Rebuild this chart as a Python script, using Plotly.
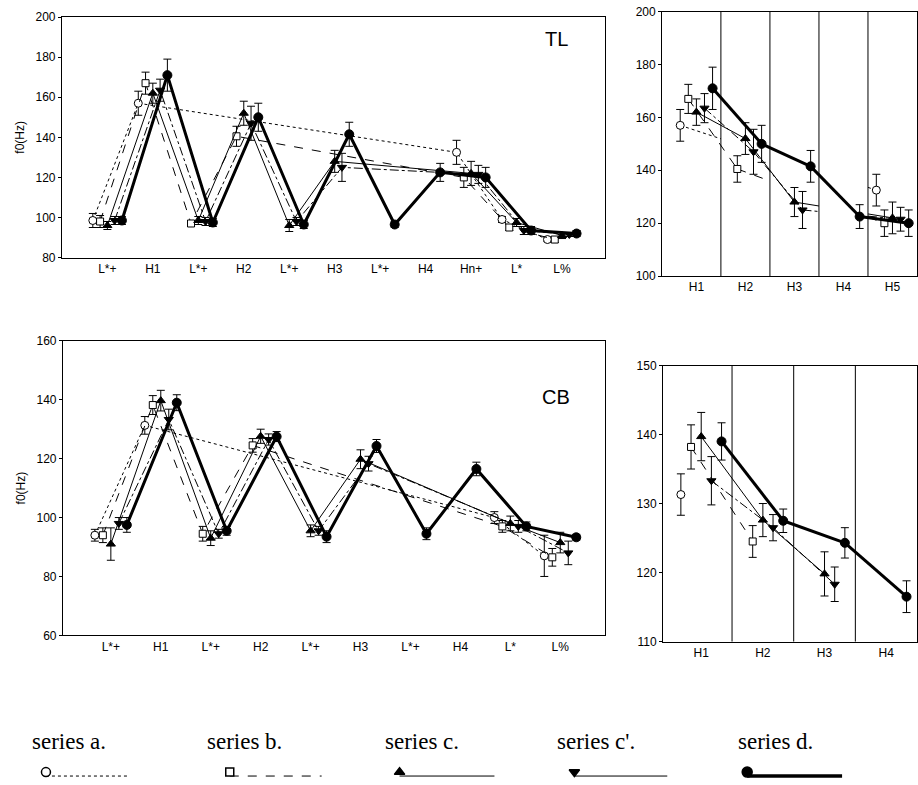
import plotly.graph_objects as go

# ---------------- data ----------------
series = ["a", "b", "c", "c'", "d"]

# TL (top) panel categories
tl_labels = ["L*+", "H1", "L*+", "H2", "L*+", "H3", "L*+", "H4", "Hn+", "L*", "L%"]
tl_idx = {
    "a": [0, 1, 8, 9, 10],
    "b": [0, 1, 2, 3, 8, 9, 10],
    "c": [0, 1, 2, 3, 4, 5, 8, 9, 10],
    "c'": [0, 1, 2, 3, 4, 5, 8, 9, 10],
    "d": [0, 1, 2, 3, 4, 5, 6, 7, 8, 9, 10],
}
tl_val = {
    "a": [98.5, 157, 132.5, 99, 89],
    "b": [98, 167, 97, 140.5, 120, 95, 89],
    "c": [96, 162, 98.5, 152, 96, 128, 122, 97.5, 91],
    "c'": [98.5, 163.5, 98, 147, 98, 125, 121.5, 93.5, 91.5],
    "d": [98.5, 171, 97.5, 150, 96.5, 141.5, 96.5, 122.5, 120, 93.5, 92],
}
tl_err = {
    "a": [3.5, 6, 6, 1.5, 1],
    "b": [3, 5.5, 1.5, 5, 5, 1.5, 1.5],
    "c": [2, 5, 2, 6, 3, 5.5, 6, 2, 1.5],
    "c'": [2, 5.5, 2, 8.5, 2, 7, 4.5, 2, 1],
    "d": [2, 8, 2, 7, 2, 6, 1.5, 4.5, 5, 2, 1.5],
}
tr_labels = ["H1", "H2", "H3", "H4", "H5"]

# CB (bottom) panel categories
cb_labels = ["L*+", "H1", "L*+", "H2", "L*+", "H3", "L*+", "H4", "L*", "L%"]
cb_idx = {
    "a": [0, 1, 8, 9],
    "b": [0, 1, 2, 3, 8, 9],
    "c": [0, 1, 2, 3, 4, 5, 8, 9],
    "c'": [0, 1, 2, 3, 4, 5, 8, 9],
    "d": [0, 1, 2, 3, 4, 5, 6, 7, 8, 9],
}
cb_val = {
    "a": [94, 131.3, 100, 87],
    "b": [94, 138.2, 94.5, 124.5, 97, 86.5],
    "c": [91, 139.7, 93, 127.6, 95.5, 119.8, 98, 91.5],
    "c'": [98, 133.3, 94.5, 126.5, 95.5, 118.3, 97, 88],
    "d": [97.5, 139, 95.5, 127.5, 93.5, 124.3, 94.5, 116.5, 97, 93.3],
}
cb_err = {
    "a": [2, 3, 2, 7],
    "b": [2.5, 3.2, 2.5, 2.3, 2, 3],
    "c": [5.5, 3.5, 2.5, 2.4, 2, 3.2, 2.5, 3.5],
    "c'": [2, 3.5, 1.5, 1.9, 1.5, 2.5, 2, 4],
    "d": [2.5, 2.7, 1.5, 1.7, 2, 2.2, 2, 2.3, 1.5, 1],
}
br_labels = ["H1", "H2", "H3", "H4"]

legend_text = ["series a.", "series b.", "series c.", "series c'.", "series d."]

# ---------------- styles ----------------
sty = {
    "a": dict(symbol="circle", fill="white", dash="dot", width=1, size=8),
    "b": dict(symbol="square", fill="white", dash="dash", width=1, size=7),
    "c": dict(symbol="triangle-up", fill="black", dash="solid", width=1, size=8),
    "c'": dict(symbol="triangle-down", fill="black", dash="dashdot", width=1, size=8),
    "d": dict(symbol="circle", fill="black", dash="solid", width=3, size=9),
}
off_left = {s: (i - 2) * 0.16 for i, s in enumerate(series)}
off_right = {s: (i - 2) * 0.165 for i, s in enumerate(series)}

fig = go.Figure()


def add_main(xa, ya, idx, val, err, off):
    for s in series:
        st = sty[s]
        xs = [i + off[s] for i in idx[s]]
        fig.add_trace(go.Scatter(
            x=xs, y=val[s], xaxis=xa, yaxis=ya, mode="lines+markers",
            line=dict(color="black", width=st["width"], dash=st["dash"]),
            marker=dict(symbol=st["symbol"], size=st["size"], color=st["fill"],
                        line=dict(color="black", width=1)),
            error_y=dict(type="data", array=err[s], color="black", thickness=1, width=4),
            showlegend=False, hoverinfo="skip"))


def add_right(xa, ya, labels, idx, val, err, off):
    for s in series:
        st = sty[s]
        cols, vs, es = [], [], []
        for i, v, e in zip(idx[s], val[s], err[s]):
            if labels[i].startswith("H"):
                cols.append(len([l for l in labels[:i] if l.startswith("H")]))
                vs.append(v)
                es.append(e)
        xs = [c + off[s] for c in cols]
        # line pieces, broken across skipped columns
        lx, ly = [], []
        for k in range(len(cols) - 1):
            x0, y0, x1, y1 = xs[k], vs[k], xs[k + 1], vs[k + 1]
            if cols[k + 1] - cols[k] == 1:
                lx += [x0, x1, None]
                ly += [y0, y1, None]
            else:
                xb0 = cols[k] + 0.5
                xb1 = cols[k + 1] - 0.5
                yb0 = y0 + (y1 - y0) * (xb0 - x0) / (x1 - x0)
                yb1 = y0 + (y1 - y0) * (xb1 - x0) / (x1 - x0)
                lx += [x0, xb0, None, xb1, x1, None]
                ly += [y0, yb0, None, yb1, y1, None]
        if lx:
            fig.add_trace(go.Scatter(
                x=lx, y=ly, xaxis=xa, yaxis=ya, mode="lines",
                line=dict(color="black", width=st["width"], dash=st["dash"]),
                showlegend=False, hoverinfo="skip", connectgaps=False))
        fig.add_trace(go.Scatter(
            x=xs, y=vs, xaxis=xa, yaxis=ya, mode="markers",
            marker=dict(symbol=st["symbol"], size=st["size"], color=st["fill"],
                        line=dict(color="black", width=1)),
            error_y=dict(type="data", array=es, color="black", thickness=1, width=4),
            showlegend=False, hoverinfo="skip"))


add_main("x", "y", tl_idx, tl_val, tl_err, off_left)
add_right("x2", "y2", tl_labels, tl_idx, tl_val, tl_err, off_right)
add_main("x3", "y3", cb_idx, cb_val, cb_err, off_left)
add_right("x4", "y4", cb_labels, cb_idx, cb_val, cb_err, off_right)

# ---------------- legend (decoration, pixel-unit overlay axis) ----------------
leg_txt_x = [30, 205, 383, 556, 737]
leg_x = [46, 230, 400, 575, 748]
leg_len = [84, 92, 95, 93, 95]
for s, tx, lx, ll, txt in zip(series, leg_txt_x, leg_x, leg_len, legend_text):
    st = sty[s]
    fig.add_trace(go.Scatter(
        x=[lx, lx + ll], y=[783, 783], xaxis="x5", yaxis="y5", mode="lines",
        line=dict(color="black", width=3.5 if s == "d" else 1,
                  dash="solid" if s == "c'" else st["dash"]),
        showlegend=False, hoverinfo="skip"))
    fig.add_trace(go.Scatter(
        x=[lx], y=[779], xaxis="x5", yaxis="y5", mode="markers",
        marker=dict(symbol=st["symbol"], size=st["size"] + 1, color=st["fill"],
                    line=dict(color="black", width=1.5)),
        showlegend=False, hoverinfo="skip"))
    fig.add_annotation(x=tx, y=748, xref="x5", yref="y5", text=txt,
                       showarrow=False, xanchor="left", yanchor="middle",
                       font=dict(family="Liberation Serif, Times New Roman, serif",
                                 size=23, color="black"))

# ---------------- layout ----------------
font_ax = dict(family="Liberation Sans, Arial, sans-serif", size=12, color="black")
common_x = dict(showline=True, linecolor="black", linewidth=1, mirror=True,
                showgrid=False, zeroline=False, ticks="", tickfont=font_ax)
common_y = dict(showline=True, linecolor="black", linewidth=1, mirror=True,
                showgrid=False, zeroline=False, ticks="outside", ticklen=3,
                tickcolor="black", tickfont=font_ax)

fig.update_layout(
    width=918, height=785, margin=dict(l=0, r=0, t=0, b=0),
    paper_bgcolor="white", plot_bgcolor="rgba(0,0,0,0)",
    xaxis=dict(common_x, domain=[0.0675, 0.660], range=[-1.0, 10.95], anchor="y",
               tickvals=list(range(len(tl_labels))), ticktext=tl_labels),
    yaxis=dict(common_y, domain=[0.675, 0.987], range=[80, 200], dtick=20, anchor="x",
               title=dict(text="f0(Hz)", font=font_ax, standoff=8)),
    xaxis2=dict(common_x, domain=[0.722, 1.0], range=[-0.7, 4.5], anchor="y2",
                tickvals=list(range(len(tr_labels))), ticktext=tr_labels),
    yaxis2=dict(common_y, domain=[0.651, 0.994], range=[100, 200], dtick=20,
                anchor="x2"),
    xaxis3=dict(common_x, domain=[0.0686, 0.660], range=[-0.96, 9.9],
                tickvals=list(range(len(cb_labels))), ticktext=cb_labels, anchor="y3"),
    yaxis3=dict(common_y, domain=[0.185, 0.567], range=[60, 160], dtick=20,
                anchor="x3", title=dict(text="f0(Hz)", font=font_ax, standoff=8)),
    xaxis4=dict(common_x, domain=[0.723, 1.0], range=[-0.62, 3.5],
                tickvals=list(range(len(br_labels))), ticktext=br_labels, anchor="y4"),
    yaxis4=dict(common_y, domain=[0.177, 0.535], range=[110, 150], dtick=10,
                anchor="x4"),
    xaxis5=dict(domain=[0, 1], range=[0, 918], visible=False, fixedrange=True,
                anchor="y5"),
    yaxis5=dict(domain=[0, 1], range=[785, 0], visible=False, fixedrange=True,
                anchor="x5"),
)

# column separators in right panels
for k in range(len(tr_labels) - 1):
    fig.add_shape(type="line", xref="x2", yref="y2 domain", x0=k + 0.5, x1=k + 0.5,
                  y0=0, y1=1, line=dict(color="black", width=1))
for k in range(len(br_labels) - 1):
    fig.add_shape(type="line", xref="x4", yref="y4 domain", x0=k + 0.5, x1=k + 0.5,
                  y0=0, y1=1, line=dict(color="black", width=1))

fig.add_annotation(text="TL", xref="x domain", yref="y domain", x=0.91, y=0.91,
                   xanchor="center", yanchor="middle", showarrow=False,
                   font=dict(family="Liberation Sans, Arial", size=20, color="black"))
fig.add_annotation(text="CB", xref="x3 domain", yref="y3 domain", x=0.91, y=0.81,
                   xanchor="center", yanchor="middle", showarrow=False,
                   font=dict(family="Liberation Sans, Arial", size=20, color="black"))

fig.write_html("out.html")
